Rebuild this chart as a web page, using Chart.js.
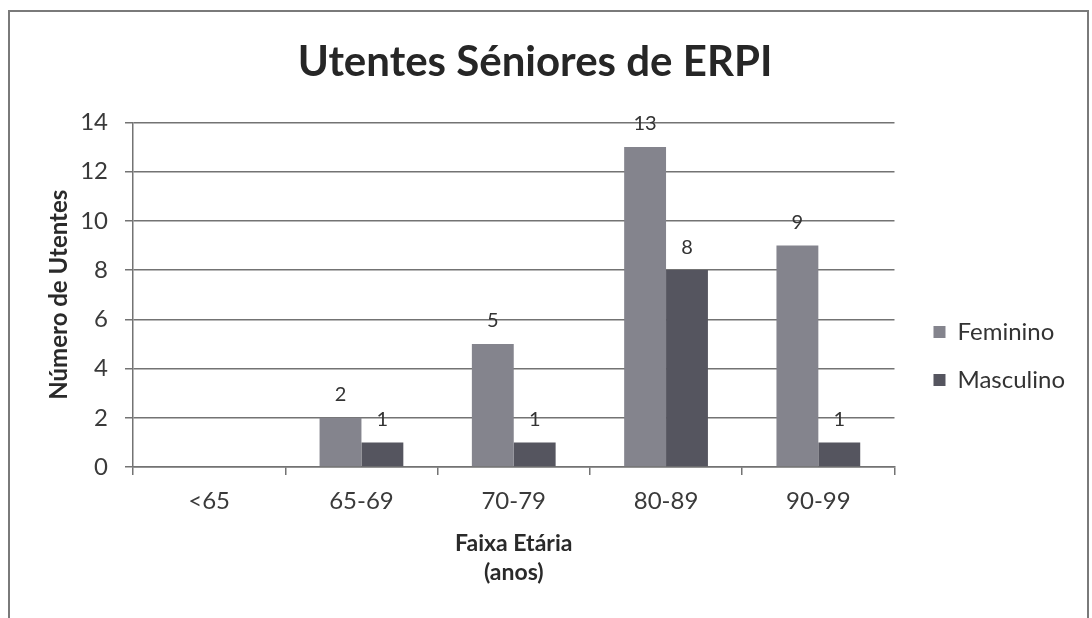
<!DOCTYPE html>
<html>
<head>
<meta charset="utf-8">
<script src="https://cdn.jsdelivr.net/npm/chart.js@4/dist/chart.umd.min.js"></script>
<style>
  html, body { margin: 0; padding: 0; background: #ffffff; overflow: hidden; }
  #wrap { position: relative; width: 1092px; height: 618px; }
  #frame { position: absolute; left: 8px; top: 10px; width: 1081px; height: 700px; border: 2px solid #7a7a7a; box-sizing: border-box; pointer-events: none; }
  canvas { position: absolute; left: 0; top: 0; }
</style>
</head>
<body>
<div id="wrap">
  <canvas id="c" width="1092" height="618"></canvas>
  <div id="frame"></div>
</div>
<script>
const categories = ['<65', '65-69', '70-79', '80-89', '90-99'];
const feminino = [null, 2, 5, 13, 9];
const masculino = [null, 1, 1, 8, 1];
const yTicks = [0, 2, 4, 6, 8, 10, 12, 14];

const FONT = 'Lato, "Open Sans", "DejaVu Sans", sans-serif';

const dataLabels = {
  id: 'dataLabels',
  afterDatasetsDraw(chart) {
    const ctx = chart.ctx;
    ctx.save();
    ctx.font = '20px ' + FONT;
    ctx.fillStyle = '#333333';
    ctx.textAlign = 'center';
    ctx.textBaseline = 'middle';
    chart.data.datasets.forEach((ds, i) => {
      const meta = chart.getDatasetMeta(i);
      meta.data.forEach((bar, j) => {
        const v = ds.data[j];
        if (v === null || v === undefined) return;
        ctx.fillText(String(v), bar.x, bar.y - 23);
      });
    });
    ctx.restore();
  }
};

const legendShift = {
  id: 'legendShift',
  afterLayout(chart) {
    const lg = chart.legend;
    if (lg) { lg.left += 15; lg.right += 15; lg.top += 47; lg.bottom += 47; }
  }
};

new Chart(document.getElementById('c'), {
  type: 'bar',
  data: {
    labels: categories,
    datasets: [
      { label: 'Feminino', data: feminino, backgroundColor: '#84848d', borderWidth: 0 },
      { label: 'Masculino', data: masculino, backgroundColor: '#55555f', borderWidth: 0 }
    ]
  },
  options: {
    responsive: false,
    animation: false,
    devicePixelRatio: 1,
    layout: { padding: { left: 10, right: 32, top: 0, bottom: 0 } },
    datasets: { bar: { categoryPercentage: 0.55, barPercentage: 1.0 } },
    plugins: {
      title: {
        display: true,
        text: 'Utentes Séniores de ERPI',
        color: '#262626',
        font: { family: FONT, size: 42, weight: 'bold', lineHeight: 1.2 },
        padding: { top: 37, bottom: 35 }
      },
      legend: {
        position: 'right',
        align: 'center',
        labels: {
          color: '#333333',
          font: { family: FONT, size: 24 },
          boxWidth: 12,
          boxHeight: 12,
          padding: 24
        }
      },
      tooltip: { enabled: false }
    },
    scales: {
      x: {
        grid: { display: true, drawOnChartArea: false, drawTicks: true, tickLength: 8, color: '#737373', lineWidth: 1.5 },
        border: { display: true, color: '#737373', width: 1.5 },
        ticks: { color: '#3a3a3a', font: { family: FONT, size: 24 }, padding: 12 },
        title: {
          display: true,
          text: ['Faixa Etária', '(anos)'],
          color: '#2a2a2a',
          font: { family: FONT, size: 23, weight: 'bold', lineHeight: 1.3 },
          padding: { top: 0, bottom: 30 }
        },
        afterFit(scale) { scale.height = 151; }
      },
      y: {
        min: 0,
        max: 14,
        afterBuildTicks(scale) { scale.ticks = yTicks.map(v => ({ value: v })); },
        grid: { color: '#737373', lineWidth: 1.5, tickLength: 8 },
        border: { display: true, color: '#737373', width: 1.5 },
        ticks: { color: '#3a3a3a', font: { family: FONT, size: 24 }, padding: 17 },
        title: {
          display: true,
          text: 'Número de Utentes',
          color: '#2a2a2a',
          font: { family: FONT, size: 24, weight: 'bold', lineHeight: 1.2 },
          padding: { top: 35, bottom: 0 }
        },
        afterFit(scale) { scale.width = 123; }
      }
    }
  },
  plugins: [dataLabels, legendShift]
});
</script>
</body>
</html>
